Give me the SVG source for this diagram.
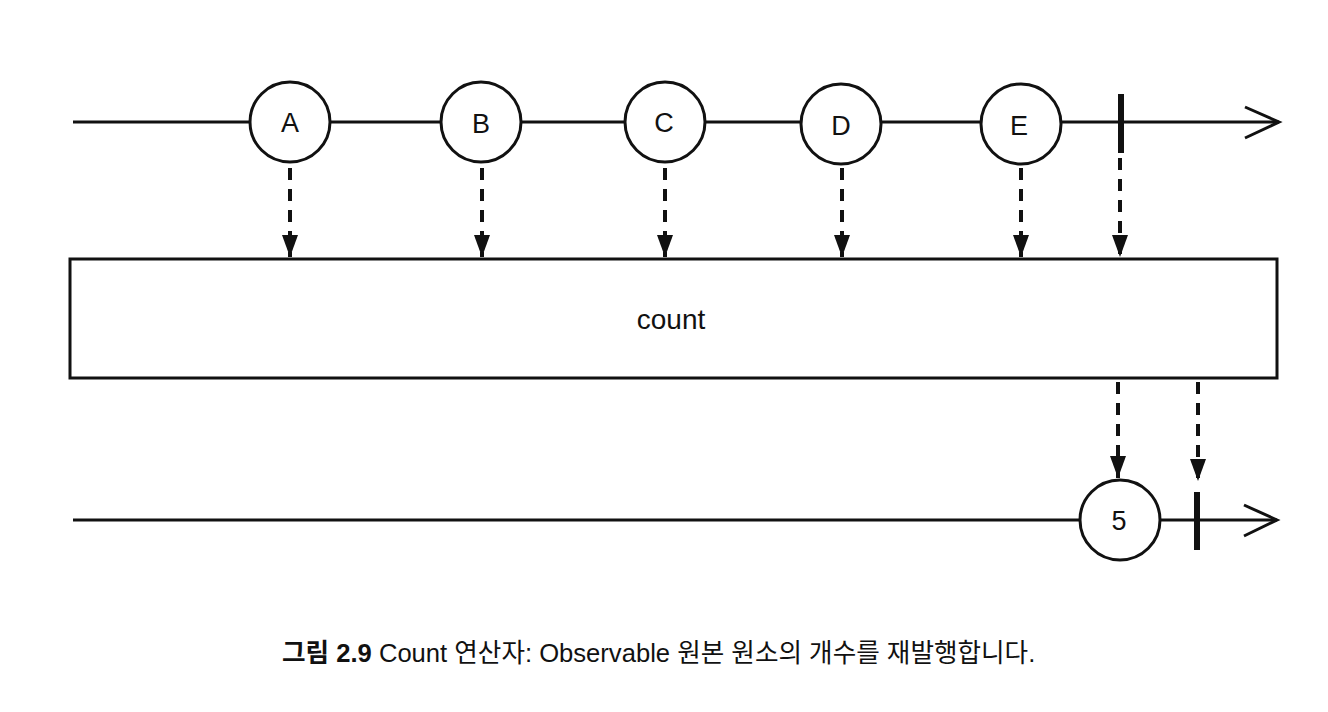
<svg xmlns="http://www.w3.org/2000/svg" width="1328" height="712" viewBox="0 0 1328 712">
<style>
.line{stroke:#111;stroke-width:3;fill:none}
.node circle{fill:#fff;stroke:#111;stroke-width:3}
.lbl{font-family:"Liberation Sans",Arial,sans-serif;font-size:27px;fill:#111;text-anchor:middle}
.dash{stroke:#111;stroke-width:4;stroke-dasharray:12 9;fill:none}
.term{stroke:#111;stroke-width:6}
.cap{font-family:"Liberation Sans","Noto Sans CJK KR",sans-serif;font-size:25.6px;fill:#111}
</style>
<defs>
<marker id="tri" markerWidth="22" markerHeight="16" refX="22" refY="8" orient="auto" markerUnits="userSpaceOnUse" viewBox="0 0 22 16">
<path d="M0,0 L22,8 L0,16 Z" fill="#111"/>
</marker>
</defs>
<g id="connectors">
<line class="line" x1="73" y1="122" x2="1279" y2="122"/>
<polyline class="line" points="1245,107 1279,122 1245,138"/>
<line class="line" x1="73" y1="520" x2="1277" y2="520"/>
<polyline class="line" points="1244,505 1277,520 1244,536"/>
<line class="dash" x1="290" y1="168" x2="290" y2="257" marker-end="url(#tri)"/>
<line class="dash" x1="482" y1="168" x2="482" y2="257" marker-end="url(#tri)"/>
<line class="dash" x1="665" y1="168" x2="665" y2="257" marker-end="url(#tri)"/>
<line class="dash" x1="842" y1="168" x2="842" y2="257" marker-end="url(#tri)"/>
<line class="dash" x1="1021" y1="168" x2="1021" y2="257" marker-end="url(#tri)"/>
<line class="dash" x1="1120" y1="158" x2="1120" y2="257" marker-end="url(#tri)"/>
<line class="dash" x1="1118" y1="382" x2="1118" y2="478" marker-end="url(#tri)"/>
<line class="dash" x1="1198" y1="382" x2="1198" y2="481" marker-end="url(#tri)"/>
</g>
<g id="terminator-top"><line class="term" x1="1121" y1="94" x2="1121" y2="153"/></g>
<g id="terminator-bottom"><line class="term" x1="1197" y1="492" x2="1197" y2="550"/></g>
<g id="node-A" class="node"><circle cx="290" cy="122" r="40"/><text class="lbl" x="290" y="132">A</text></g>
<g id="node-B" class="node"><circle cx="481" cy="122" r="40"/><text class="lbl" x="481" y="133">B</text></g>
<g id="node-C" class="node"><circle cx="665" cy="122" r="40"/><text class="lbl" x="664" y="132">C</text></g>
<g id="node-D" class="node"><circle cx="841" cy="124" r="40"/><text class="lbl" x="841" y="135">D</text></g>
<g id="node-E" class="node"><circle cx="1021" cy="124" r="40"/><text class="lbl" x="1019" y="135">E</text></g>
<g id="node-count"><rect x="70" y="259" width="1207" height="119" fill="#fff" stroke="#111" stroke-width="3"/><text class="lbl" x="671" y="329" style="font-size:28px">count</text></g>
<g id="node-5" class="node"><circle cx="1120" cy="520" r="40"/><text class="lbl" x="1119" y="530">5</text></g>
<text class="cap" x="282" y="662"><tspan font-weight="bold">그림 2.9</tspan> Count 연산자: Observable 원본 원소의 개수를 재발행합니다.</text>
</svg>
